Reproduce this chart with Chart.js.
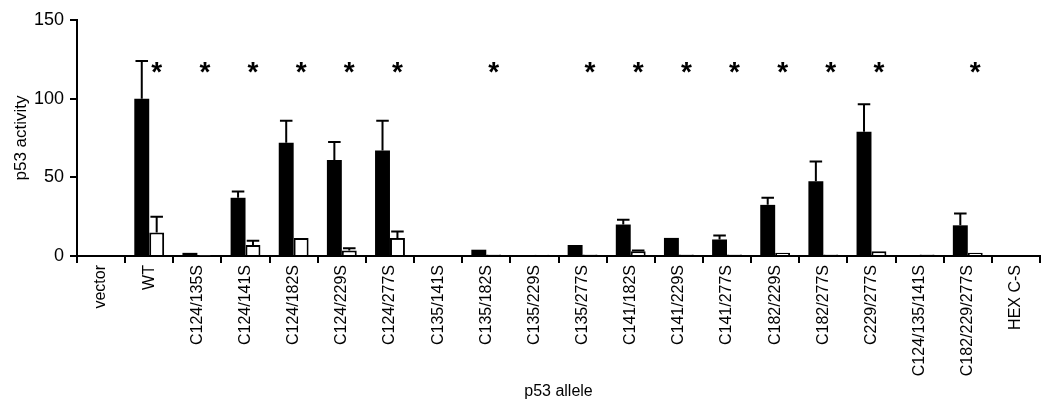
<!DOCTYPE html>
<html>
<head>
<meta charset="utf-8">
<script src="https://cdn.jsdelivr.net/npm/chart.js@4"></script>
<style>
  html, body { margin: 0; padding: 0; background: #fff; }
  canvas { display: block; }
</style>
</head>
<body>
<canvas id="chart" width="1050" height="405"></canvas>
<script>
// ============================================================
// DATI
// ============================================================
const categories = [
  "vector", "WT", "C124/135S", "C124/141S", "C124/182S", "C124/229S", "C124/277S",
  "C135/141S", "C135/182S", "C135/229S", "C135/277S", "C141/182S", "C141/229S",
  "C141/277S", "C182/229S", "C182/277S", "C229/277S", "C124/135/141S",
  "C182/229/277S", "HEX C-S"
];
const blackValues = [null, 100, 2, 37, 72, 61, 67, 0, 4, 0.5, 7, 20, 11.5, 10.5, 32.5, 47.5, 79, 0, 19.5, 0.5];
const whiteValues = [null, 15, 0.3, 7, 11.5, 3.5, 11.5, 0.5, 1, 0.8, 1, 3, 1, 1, 2, 1, 3, 1, 2, 0.5];
// upper end of error bar (null = none drawn)
const blackErrTop = [null, 124, null, 41, 86, 72.5, 86, null, null, null, null, 23, null, 13, 37, 60, 96.5, null, 27, null];
const whiteErrTop = [null, 25, null, 9.7, null, 5, 15.5, null, null, null, null, 3.5, null, null, null, null, null, null, null, null];
const significant = [false, true, true, true, true, true, true, false, true, false, true, true, true, true, true, true, true, false, true, false];
const yTicks = [0, 50, 100, 150];
const starLevel = 120;

const FONT = "'Liberation Sans', Arial, Helvetica, sans-serif";

// ============================================================
// PLUGIN: barre di errore + asterischi
// ============================================================
const errorBarsPlugin = {
  id: "errorBars",
  afterDatasetsDraw(chart) {
    const ctx = chart.ctx;
    const y = chart.scales.y;
    const sets = [blackErrTop, whiteErrTop];
    ctx.save();
    ctx.strokeStyle = "#000";
    ctx.lineWidth = 2;
    sets.forEach((errs, di) => {
      const meta = chart.getDatasetMeta(di);
      meta.data.forEach((bar, i) => {
        if (errs[i] == null) return;
        const top = y.getPixelForValue(errs[i]);
        const half = bar.width * 0.42;
        ctx.beginPath();
        ctx.moveTo(bar.x, bar.y);
        ctx.lineTo(bar.x, top);
        ctx.moveTo(bar.x - half, top);
        ctx.lineTo(bar.x + half, top);
        ctx.stroke();
      });
    });

    // asterischi sopra la barra bianca
    const whiteMeta = chart.getDatasetMeta(1);
    ctx.fillStyle = "#000";
    ctx.font = "bold 28px " + FONT;
    ctx.textAlign = "center";
    ctx.textBaseline = "middle";
    significant.forEach((s, i) => {
      if (!s) return;
      const bar = whiteMeta.data[i];
      ctx.fillText("*", bar.x, y.getPixelForValue(starLevel) + 6);
    });
    ctx.restore();
  }
};

// ============================================================
// GRAFICO
// ============================================================
const ctx = document.getElementById("chart").getContext("2d");
new Chart(ctx, {
  type: "bar",
  data: {
    labels: categories,
    datasets: [
      {
        label: "black",
        data: blackValues,
        backgroundColor: "#000",
        borderColor: "#000",
        borderWidth: 0,
        categoryPercentage: 0.62,
        barPercentage: 1
      },
      {
        label: "white",
        data: whiteValues,
        backgroundColor: "#fff",
        borderColor: "#000",
        borderWidth: 2,
        borderSkipped: "bottom",
        categoryPercentage: 0.62,
        barPercentage: 1
      }
    ]
  },
  plugins: [errorBarsPlugin],
  options: {
    responsive: false,
    animation: false,
    devicePixelRatio: 1,
    layout: { padding: { top: 20, right: 10, left: 0, bottom: 0 } },
    plugins: {
      legend: { display: false },
      tooltip: { enabled: false }
    },
    scales: {
      x: {
        offset: true,
        grid: {
          offset: true,
          drawOnChartArea: false,
          drawTicks: true,
          tickLength: 7,
          color: "#000",
          lineWidth: 2
        },
        border: { display: true, color: "#000", width: 2 },
        ticks: {
          color: "#000",
          font: { family: FONT, size: 16 },
          minRotation: 90,
          maxRotation: 90,
          autoSkip: false,
          padding: 2
        },
        title: {
          display: true,
          text: "p53 allele",
          color: "#000",
          font: { family: FONT, size: 16 },
          padding: { top: 0, bottom: 4 }
        },
        afterFit(scale) { scale.height = 149; }
      },
      y: {
        min: 0,
        max: 150,
        afterBuildTicks(scale) {
          scale.ticks = yTicks.map(v => ({ value: v }));
        },
        grid: {
          drawOnChartArea: false,
          drawTicks: true,
          tickLength: 7,
          color: "#000",
          lineWidth: 2
        },
        border: { display: true, color: "#000", width: 2 },
        ticks: {
          color: "#000",
          font: { family: FONT, size: 18 },
          padding: 6
        },
        title: {
          display: true,
          text: "p53 activity",
          color: "#000",
          font: { family: FONT, size: 17 },
          padding: { top: 11, bottom: 2 }
        },
        afterFit(scale) { scale.width = 77; }
      }
    }
  }
});
</script>
</body>
</html>
